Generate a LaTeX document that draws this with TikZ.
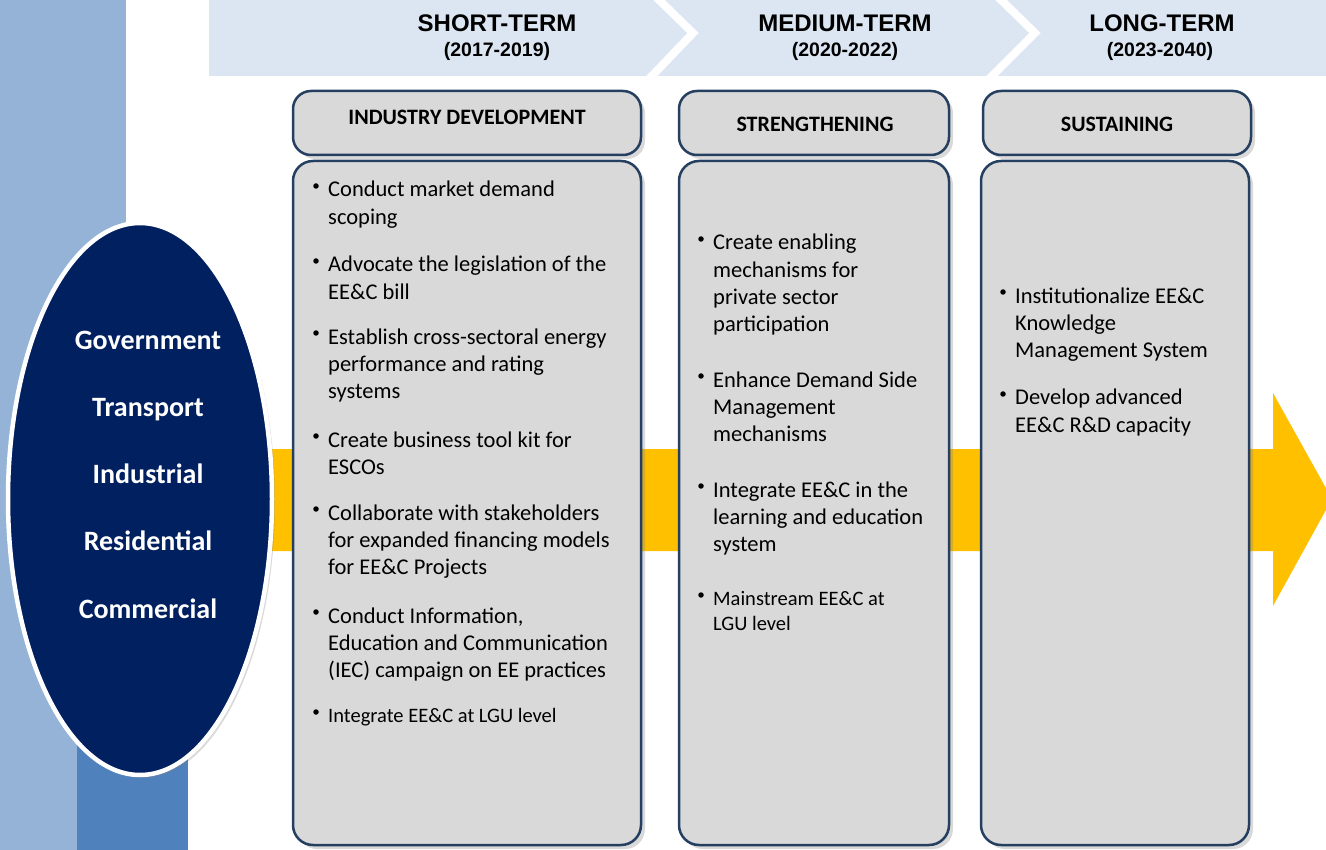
\documentclass[tikz,border=0pt]{standalone}
\usepackage{fontspec}
\setmainfont{Carlito}
\newfontfamily\arialfont{Liberation Sans}
\usetikzlibrary{shadows}

\definecolor{paleblue}{HTML}{95B3D7}
\definecolor{midblue}{HTML}{4F81BD}
\definecolor{bannerblue}{HTML}{DCE6F2}
\definecolor{navy}{HTML}{002060}
\definecolor{amber}{HTML}{FFC000}
\definecolor{boxgrey}{HTML}{D9D9D9}
\definecolor{boxline}{HTML}{243F60}

\begin{document}
\begin{tikzpicture}[x=1pt,y=-1pt,
  panel/.style={fill=boxgrey,draw=boxline,line width=2.5pt,
    drop shadow={shadow xshift=4pt,shadow yshift=-4pt,opacity=0.3}},
  dot/.style={circle,fill=black,inner sep=0pt,minimum size=5.5pt},
  item/.style={anchor=base west,align=left,inner sep=0pt,
    font=\fontsize{22.5}{27.3}\selectfont},
  smallitem/.style={item,font=\fontsize{20.5}{25}\selectfont},
  sector/.style={anchor=base,inner sep=0pt,text=white,
    font=\fontsize{28}{30}\selectfont\bfseries},
  phase/.style={anchor=base,inner sep=0pt,
    font=\fontsize{22}{24}\selectfont\bfseries},
  term/.style={anchor=base,inner sep=0pt,
    font=\arialfont\fontsize{24}{26}\selectfont\bfseries},
  years/.style={anchor=base,inner sep=0pt,
    font=\arialfont\fontsize{19.5}{22}\selectfont\bfseries}]

\useasboundingbox (0,0) rectangle (1326,850);

%left strips
\fill[paleblue] (0,0) rectangle (126,850);
\fill[midblue] (77,600) rectangle (188,850);

%top banner with chevrons
\fill[bannerblue] (209,0) rectangle (1326,76);
\draw[white,line width=8pt] (655,-4)--(693,33)--(648,80);
\draw[white,line width=8pt] (997,-4)--(1035,33)--(988,80);

\node[term] (st) at (497,32) {SHORT-TERM};
\node[years] (sty) at (497,57) {(2017-2019)};
\node[term] (mt) at (845,32) {MEDIUM-TERM};
\node[years] (mty) at (845,57) {(2020-2022)};
\node[term] (lt) at (1162,32) {LONG-TERM};
\node[years] (lty) at (1160,57) {(2023-2040)};

%big yellow arrow
\fill[amber] (140,449)--(1273,449)--(1273,393)--(1332,499)--(1273,606)--(1273,551)--(140,551)--cycle;

%sector ellipse
\draw[fill=navy,draw=white,line width=4.5pt,
  drop shadow={shadow xshift=3pt,shadow yshift=-3pt,opacity=0.3}]
  (140,499) ellipse [x radius=132,y radius=276];

\node[sector] (gov) at (148,350) {Government};
\node[sector] (tra) at (148,417) {Transport};
\node[sector] (ind) at (148,483) {Industrial};
\node[sector] (res) at (148,550) {Residential};
\node[sector] (com) at (148,618) {Commercial};

%header boxes
\draw[panel,rounded corners=18pt] (293,91) rectangle (641,155);
\draw[panel,rounded corners=18pt] (679,91) rectangle (949,155);
\draw[panel,rounded corners=18pt] (983,91) rectangle (1251,155);

\node[phase] (dev) at (467,125) {INDUSTRY DEVELOPMENT};
\node[phase] (str) at (815,132) {STRENGTHENING};
\node[phase] (sus) at (1117,132) {SUSTAINING};

%body boxes
\draw[panel,rounded corners=20pt] (293,161) rectangle (641,845);
\draw[panel,rounded corners=20pt] (679,161) rectangle (949,845);
\draw[panel,rounded corners=20pt] (981,161) rectangle (1249,845);

%short-term items (base = last line)
\node[dot] (d1a) at (316,186) {};
\node[item] (t1a) at (328,224.3) {Conduct market demand\\scoping};
\node[dot] (d1b) at (316,261) {};
\node[item] (t1b) at (328,299.3) {Advocate the legislation of the\\EE\&C bill};
\node[dot] (d1c) at (316,333) {};
\node[item] (t1c) at (328,398.6) {Establish cross-sectoral energy\\performance and rating\\systems};
\node[dot] (d1d) at (316,436) {};
\node[item] (t1d) at (328,474.3) {Create business tool kit for\\ESCOs};
\node[dot] (d1e) at (316,509) {};
\node[item] (t1e) at (328,574.6) {Collaborate with stakeholders\\for expanded financing models\\for EE\&C Projects};
\node[dot] (d1f) at (316,612) {};
\node[item] (t1f) at (328,677.6) {Conduct Information,\\Education and Communication\\(IEC) campaign on EE practices};
\node[dot] (d1g) at (316,712) {};
\node[smallitem] (t1g) at (328,722) {Integrate EE\&C at LGU level};

%medium-term items
\node[dot] (d2a) at (701,239) {};
\node[item] (t2a) at (713,331.9) {Create enabling\\mechanisms for\\private sector\\participation};
\node[dot] (d2b) at (701,376) {};
\node[item] (t2b) at (713,441.6) {Enhance Demand Side\\Management\\mechanisms};
\node[dot] (d2c) at (701,486) {};
\node[item] (t2c) at (713,551.6) {Integrate EE\&C in the\\learning and education\\system};
\node[dot] (d2d) at (701,595) {};
\node[smallitem] (t2d) at (713,630) {Mainstream EE\&C at\\LGU level};

%long-term items
\node[dot] (d3a) at (1003,292) {};
\node[item] (t3a) at (1015,357.6) {Institutionalize EE\&C\\Knowledge\\Management System};
\node[dot] (d3b) at (1003,394) {};
\node[item] (t3b) at (1015,432.3) {Develop advanced\\EE\&C R\&D capacity};

\end{tikzpicture}
\end{document}
